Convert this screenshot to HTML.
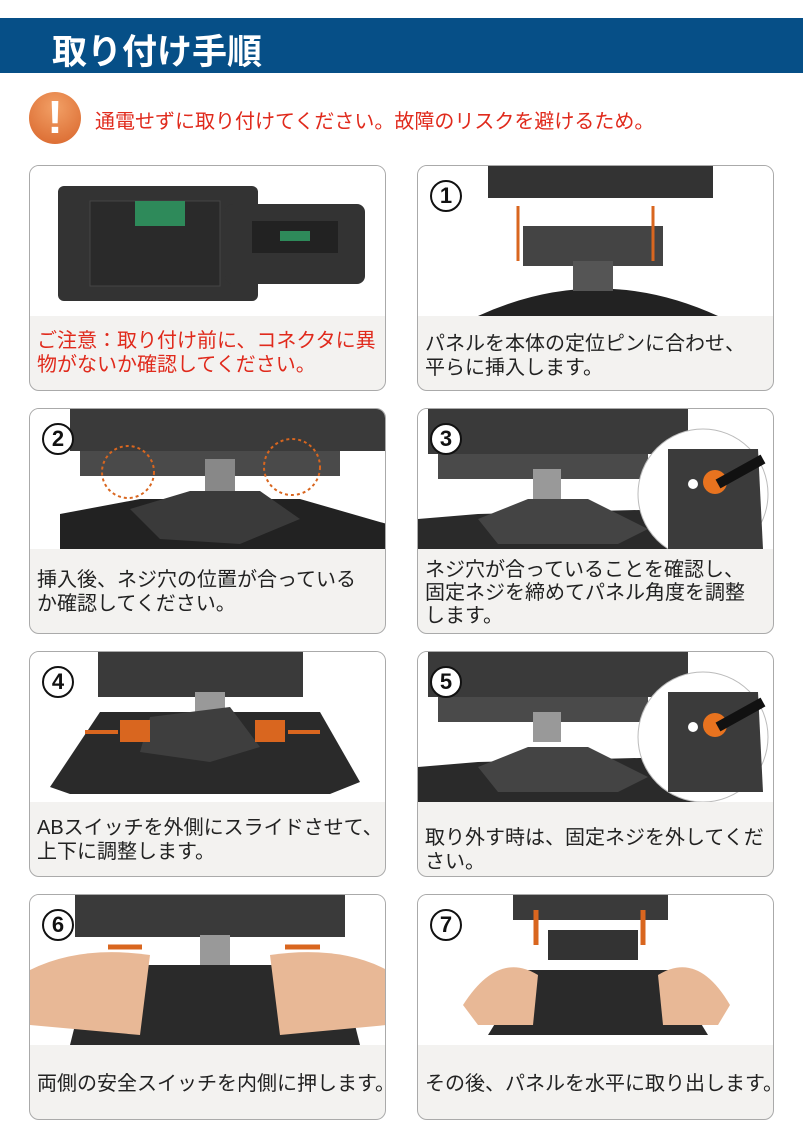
<!DOCTYPE html>
<html><head><meta charset="utf-8"><style>
*{margin:0;padding:0;box-sizing:border-box}
body{width:803px;height:1139px;background:#fff;position:relative;overflow:hidden;font-family:"Liberation Sans","Noto Sans CJK JP",sans-serif}
.hd{position:absolute;left:0;top:18px;width:803px;height:55px;background:#064f87;color:#fff;font-size:35px;font-weight:bold;padding:6px 0 0 52px;letter-spacing:0px}
.warn{position:absolute;left:29px;top:92px;width:52px;height:52px;border-radius:50%;background:radial-gradient(circle at 50% 30%,#f2a066,#d8642a)}
.warn:after{content:"!";position:absolute;left:0;width:52px;text-align:center;top:-2px;color:#fff;font-size:46px;font-weight:bold}
.wt{position:absolute;left:95px;top:105px;color:#e02a1c;font-size:20px}
.card{position:absolute;width:357px;height:226px;border:1.5px solid #aaa;border-radius:10px;overflow:hidden;background:#f3f2f0}
.card svg{position:absolute;left:0;top:0}
.tx{position:absolute;left:7px;font-size:20px;line-height:24px;color:#222;white-space:nowrap}
.red{color:#e02a1c}
.num{position:absolute;left:12px;top:14px;width:32px;height:32px;border-radius:50%;background:#fff;border:2px solid #111;font-weight:bold;font-size:22px;text-align:center;line-height:28px;color:#111}
</style></head><body>
<div class="hd">取り付け手順</div>
<div class="warn"></div>
<div class="wt">通電せずに取り付けてください。故障のリスクを避けるため。</div>

<div class="card" style="left:29px;top:165px">
<svg width="357" height="150"><rect width="357" height="150" fill="#fff"/>
<rect x="28" y="20" width="200" height="115" rx="6" fill="#333"/>
<rect x="60" y="35" width="130" height="85" fill="#2a2a2a" stroke="#444"/>
<rect x="105" y="35" width="50" height="25" fill="#2e8a5a"/>
<rect x="195" y="38" width="140" height="80" rx="8" fill="#333"/>
<rect x="222" y="55" width="86" height="32" fill="#222"/>
<rect x="250" y="65" width="30" height="10" fill="#2e8a5a"/></svg>
<div class="tx red" style="top:163px">ご注意：取り付け前に、コネクタに異<br>物がないか確認してください。</div></div>

<div class="card" style="left:417px;top:165px">
<svg width="357" height="150"><rect width="357" height="150" fill="#fff"/>
<rect x="70" y="0" width="225" height="32" fill="#333"/>
<rect x="105" y="60" width="140" height="40" fill="#444"/>
<path d="M60 150 Q180 95 300 150Z" fill="#222"/>
<rect x="155" y="95" width="40" height="30" fill="#555"/>
<line x1="100" y1="40" x2="100" y2="95" stroke="#d9661f" stroke-width="3"/>
<line x1="235" y1="40" x2="235" y2="95" stroke="#d9661f" stroke-width="3"/></svg>
<div class="num">1</div>
<div class="tx" style="top:166px">パネルを本体の定位ピンに合わせ、<br>平らに挿入します。</div></div>

<div class="card" style="left:29px;top:408px">
<svg width="357" height="140"><rect width="357" height="140" fill="#fff"/>
<rect x="40" y="0" width="317" height="42" fill="#3a3a3a"/>
<rect x="50" y="42" width="260" height="25" fill="#4a4a4a"/>
<rect x="175" y="50" width="30" height="40" fill="#888"/>
<path d="M30 140 L30 105 L110 90 L270 90 L357 115 L357 140Z" fill="#222"/>
<path d="M100 100 L160 82 L230 82 L270 110 L210 135 L130 130Z" fill="#3a3a3a"/>
<circle cx="98" cy="63" r="26" fill="none" stroke="#d9661f" stroke-width="2" stroke-dasharray="3 3"/>
<circle cx="262" cy="58" r="28" fill="none" stroke="#d9661f" stroke-width="2" stroke-dasharray="3 3"/></svg>
<div class="num">2</div>
<div class="tx" style="top:159px">挿入後、ネジ穴の位置が合っている<br>か確認してください。</div></div>

<div class="card" style="left:417px;top:408px">
<svg width="357" height="140"><rect width="357" height="140" fill="#fff"/>
<rect x="10" y="0" width="260" height="45" fill="#3a3a3a"/>
<rect x="20" y="45" width="210" height="25" fill="#4a4a4a"/>
<rect x="115" y="60" width="28" height="30" fill="#999"/>
<path d="M0 140 L0 110 L60 105 L260 100 L290 140Z" fill="#2a2a2a"/>
<path d="M60 110 L110 90 L170 90 L230 120 L200 135 L80 135Z" fill="#444"/>
<circle cx="285" cy="85" r="65" fill="#fff" stroke="#bbb"/>
<path d="M250 40 L340 40 L345 140 L250 140Z" fill="#3b3b3b"/>
<circle cx="275" cy="75" r="5" fill="#fff"/>
<circle cx="297" cy="73" r="12" fill="#e8731f"/>
<line x1="300" y1="75" x2="345" y2="50" stroke="#111" stroke-width="10"/></svg>
<div class="num">3</div>
<div class="tx" style="top:150px;line-height:23px">ネジ穴が合っていることを確認し、<br>固定ネジを締めてパネル角度を調整<br>します。</div></div>

<div class="card" style="left:29px;top:651px">
<svg width="357" height="150"><rect width="357" height="150" fill="#fff"/>
<rect x="68" y="0" width="205" height="45" fill="#3a3a3a"/>
<rect x="165" y="40" width="30" height="25" fill="#999"/>
<path d="M20 135 L70 60 L290 60 L330 130 L300 142 L40 142Z" fill="#2a2a2a"/>
<path d="M120 65 L200 55 L230 95 L180 110 L110 100Z" fill="#3e3e3e"/>
<rect x="90" y="68" width="30" height="22" fill="#d9661f"/>
<rect x="225" y="68" width="30" height="22" fill="#d9661f"/>
<line x1="55" y1="80" x2="88" y2="80" stroke="#d9661f" stroke-width="4"/>
<line x1="258" y1="80" x2="290" y2="80" stroke="#d9661f" stroke-width="4"/></svg>
<div class="num">4</div>
<div class="tx" style="top:164px">ABスイッチを外側にスライドさせて、<br>上下に調整します。</div></div>

<div class="card" style="left:417px;top:651px">
<svg width="357" height="150"><rect width="357" height="150" fill="#fff"/>
<rect x="10" y="0" width="260" height="45" fill="#3a3a3a"/>
<rect x="20" y="45" width="210" height="25" fill="#4a4a4a"/>
<rect x="115" y="60" width="28" height="30" fill="#999"/>
<path d="M0 150 L0 115 L60 110 L260 105 L290 150Z" fill="#2a2a2a"/>
<path d="M60 115 L110 95 L170 95 L230 125 L200 140 L80 140Z" fill="#444"/>
<circle cx="285" cy="85" r="65" fill="#fff" stroke="#bbb"/>
<path d="M250 40 L340 40 L345 140 L250 140Z" fill="#3b3b3b"/>
<circle cx="275" cy="75" r="5" fill="#fff"/>
<circle cx="297" cy="73" r="12" fill="#e8731f"/>
<line x1="300" y1="75" x2="345" y2="50" stroke="#111" stroke-width="10"/></svg>
<div class="num">5</div>
<div class="tx" style="top:174px">取り外す時は、固定ネジを外してくだ<br>さい。</div></div>

<div class="card" style="left:29px;top:894px">
<svg width="357" height="150"><rect width="357" height="150" fill="#fff"/>
<rect x="45" y="0" width="270" height="42" fill="#3a3a3a"/>
<rect x="170" y="40" width="30" height="30" fill="#999"/>
<path d="M40 150 L60 70 L310 70 L330 150Z" fill="#2a2a2a"/>
<path d="M0 75 Q50 50 120 60 L110 140 L0 130Z" fill="#e8b896"/>
<path d="M357 75 Q310 50 240 60 L250 140 L357 130Z" fill="#e8b896"/>
<line x1="78" y1="52" x2="112" y2="52" stroke="#d9661f" stroke-width="5"/>
<line x1="255" y1="52" x2="290" y2="52" stroke="#d9661f" stroke-width="5"/></svg>
<div class="num">6</div>
<div class="tx" style="top:177px">両側の安全スイッチを内側に押します。</div></div>

<div class="card" style="left:417px;top:894px">
<svg width="357" height="150"><rect width="357" height="150" fill="#fff"/>
<rect x="95" y="0" width="155" height="25" fill="#3a3a3a"/>
<rect x="130" y="35" width="90" height="30" fill="#333"/>
<path d="M70 140 L110 75 L250 75 L290 140Z" fill="#2a2a2a"/>
<path d="M45 110 Q80 55 120 80 L115 130 L60 130Z" fill="#e8b896"/>
<path d="M312 110 Q280 55 240 80 L245 130 L300 130Z" fill="#e8b896"/>
<line x1="118" y1="15" x2="118" y2="50" stroke="#d9661f" stroke-width="5"/>
<line x1="225" y1="15" x2="225" y2="50" stroke="#d9661f" stroke-width="5"/></svg>
<div class="num">7</div>
<div class="tx" style="top:177px">その後、パネルを水平に取り出します。</div></div>
</body></html>
